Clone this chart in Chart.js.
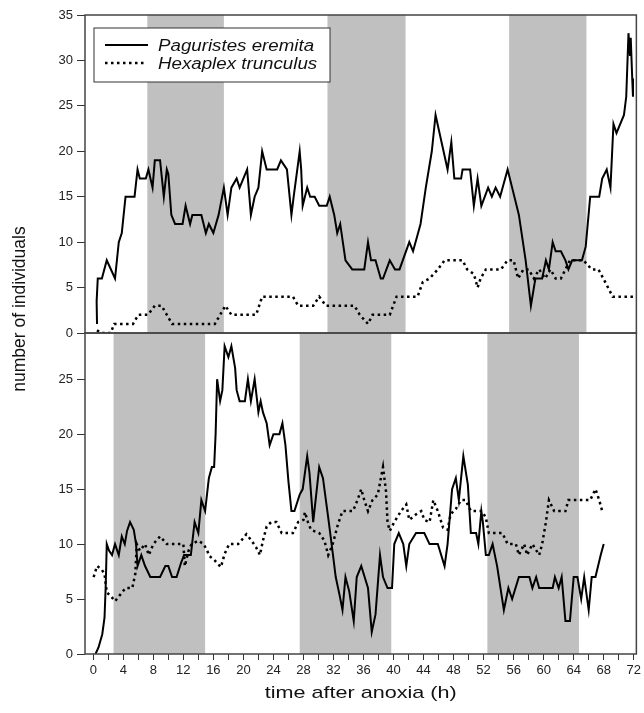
<!DOCTYPE html>
<html>
<head>
<meta charset="utf-8">
<title>Paguristes eremita / Hexaplex trunculus after anoxia</title>
<script src="https://cdn.jsdelivr.net/npm/chart.js@4.4.1/dist/chart.umd.min.js"></script>
<style>
  html, body { margin: 0; padding: 0; background: #fff; }
  #wrap { width: 644px; height: 713px; }
</style>
</head>
<body>
<div id="wrap"><canvas id="anoxiaChart" width="644" height="713"></canvas></div>
<script>
// ---- data (hours after anoxia, number of individuals) ----
// top panel
const topPagHours  = [0.5,0.45,0.6,1.15,1.8,2.9,3.4,3.8,4.3,5.5,5.9,6.2,7.0,7.35,7.9,8.2,8.9,9.4,9.8,10.0,10.4,10.9,11.9,12.3,12.9,13.2,14.4,15.0,15.4,16.0,16.7,17.4,17.9,18.4,19.1,19.5,20.5,21.0,21.5,22.0,22.5,23.1,24.5,25.0,25.8,26.4,26.7,27.5,27.7,27.9,28.5,28.9,29.5,30.1,31.1,31.5,32.1,32.5,32.9,33.6,34.5,36.1,36.6,37.0,37.6,38.3,38.6,39.5,40.2,40.8,42.1,42.6,43.6,44.3,45.1,45.6,46.4,47.2,47.7,48.1,49.0,49.2,50.2,50.7,51.2,51.7,52.6,53.1,53.6,54.2,55.2,55.8,56.7,57.6,58.3,58.9,59.8,60.3,60.7,61.2,61.6,62.3,62.9,63.3,63.8,65.1,65.6,66.2,67.4,67.8,68.4,68.9,69.3,69.7,70.7,71.0,71.3,71.5,71.6,71.8,71.9];
const topPagCount  = [1,3.5,6,6,8,6,10,11,15,15,18,17,17,18,16,19,19,15,18,17.5,13,12,12,14,12,13,13,11,12,11,13,16,13,16,17,16,18,13,15,16,20,18,18,19,18,13,15,20,18,14,16,15,15,14,14,15,13,11,12,8,7,7,10,8,8,6,6,8,7,7,10,9,12,16,20,24,21,18,21,17,17,18,18,14,17,14,16,15,16,15,18,16,13,8,3,6,6,8,7,10,9,9,8,7,8,8,9.5,15,15,17,18,16,23,22,24,26,33,30.5,32.5,28,26];
const topHexHours  = [0.5,1.0,2.3,2.8,5.3,6.0,7.3,8.2,9.1,9.8,10.5,16.2,16.9,17.6,18.4,21.7,22.5,26.6,27.3,29.3,30.1,31.0,34.8,35.5,36.6,37.2,39.5,40.4,43.2,43.9,44.8,45.9,46.8,49.2,49.8,50.7,51.2,51.6,52.3,54.3,55.2,56.0,56.6,57.3,58.0,58.7,59.4,60.2,60.9,61.6,62.3,62.9,63.5,65.3,66.4,67.3,68.2,69.2,72.0];
const topHexCount  = [0.3,0,0,1,1,2,2,3,3,2,1,1,2,3,2,2,4,4,3,3,4,3,3,2,1,2,2,4,4,5.6,6,7,8,8,7,6.5,5,6,7,7,8,8,6,7,7,6,7,6,7,6,6,7,8,8,7,7,5.6,4,4];
// bottom panel
const botPagHours  = [0.3,0.7,1.2,1.5,1.65,1.8,2.1,2.5,2.9,3.4,3.8,4.2,4.5,4.9,5.4,5.7,5.9,6.4,6.9,7.6,8.9,9.6,10.0,10.5,11.1,11.7,12.1,13.0,13.5,14.0,14.4,14.9,15.4,15.8,16.1,16.3,16.5,16.9,17.2,17.5,18.0,18.4,18.9,19.1,19.5,20.2,20.6,21.0,21.5,22.0,22.3,22.6,23.1,23.5,24.0,24.8,25.2,25.6,26.0,26.4,26.8,27.5,27.9,28.5,28.8,29.3,30.1,30.6,31.3,31.9,32.3,32.8,33.2,33.6,34.1,34.7,35.1,35.7,36.6,37.1,37.6,38.2,38.6,39.2,39.8,40.1,40.7,41.3,41.7,42.1,43.0,44.1,44.8,45.9,46.8,47.2,47.8,48.3,48.7,49.3,49.9,50.3,51.0,51.3,51.7,51.9,52.3,52.7,53.2,53.8,54.7,55.3,55.8,56.7,58.1,58.5,59.0,59.4,61.2,61.5,62.0,62.4,62.9,63.5,64.0,64.5,65.0,65.4,66.0,66.4,66.9,67.6,68.0];
const botPagCount  = [0,0.6,1.8,3.3,6,10,9.4,9,10,9,10.7,10,11.2,12,11.3,10,8,9,8,7,7,8,8,7,7,8.3,9,9,12,11,14,13,16,17,17,20,25,23,24,28,27,28,26,24,23,23,25,23,25,22,23,22,21,19,20,20,21,19,15.7,13,13,14.5,15,18,16.5,12,17,16,12.4,9.2,7,5.4,4,7,5.7,3,7,8,6,2,3.6,9,7,6,6,10,11,10,8,10,11,11,10,10,8,10,15,16,14,18,15.4,11,11,10,13,12,9,9,10,8,4,6,5,7,7,6,7,6,6,7,6,7,3,3,7,7,5,7,4,7,7,9,10];
const botHexHours  = [0.05,0.5,1.1,1.5,1.8,2.3,2.9,3.6,4.3,5.2,5.6,5.8,6.2,6.9,7.4,8.0,8.9,9.8,12.0,12.2,12.7,13.1,14.0,14.7,15.1,15.5,16.2,17.0,17.5,18.1,19.3,19.7,20.4,21.1,21.7,22.2,22.6,23.1,23.7,24.4,25.1,26.0,26.6,27.3,28.0,28.2,28.6,29.0,30.1,30.8,31.3,31.9,32.6,33.2,34.6,35.2,35.7,36.1,36.6,37.2,37.9,38.6,39.0,39.2,39.5,40.1,41.0,41.7,42.1,43.0,43.7,44.1,44.8,45.3,45.9,46.6,47.2,47.6,48.3,49.0,49.6,50.3,51.8,52.3,52.7,54.5,55.2,56.3,56.7,57.4,57.8,58.5,59.4,59.8,60.3,60.7,61.4,62.0,62.9,63.3,66.2,66.9,67.4,67.8];
const botHexCount  = [7,8,7.7,7.3,5.6,5.3,4.8,5.4,6,6,7.3,10,9.4,10,9,10,10.7,10,10,8,9.4,10,10.3,10,9.5,8.9,8.5,7.9,9.1,10,10,10.3,10.9,10.3,9.7,9,10.3,11.6,12,12,11,11,11,12,12.2,12.9,12,11.3,11,10.3,9,10,11.8,13,13,14,15,14,13,14,14.5,17,14.8,12,11.2,12,13,13.6,12.2,12.7,13,12.2,12,14,13,11.5,11.3,12.7,13.2,14,14,13,13,12.4,11,11,10,10,9,10,9,10,9,10,12,14,13,13,13,14,14,15,14,13];

// dark periods (shaded), start/end in hours
const topNight = [[7.2, 17.4], [31.2, 41.6], [55.4, 65.7]];
const botNight = [[2.7, 14.9], [27.5, 39.7], [52.5, 64.7]];

// tick values
const xTicks = [0,2,4,6,8,10,12,14,16,18,20,22,24,26,28,30,32,34,36,38,40,42,44,46,48,50,52,54,56,58,60,62,64,66,68,70,72];
const topYTicks = [0, 5, 10, 15, 20, 25, 30, 35];
const botYTicks = [0, 5, 10, 15, 20, 25];

const seriesNames = ['Paguristes eremita', 'Hexaplex trunculus'];

const FONT = "'Liberation Sans', Arial, sans-serif";
Chart.defaults.font.family = FONT;
Chart.defaults.color = '#222';

function toPoints(hours, counts) {
    return hours.map((h, i) => ({x: h, y: counts[i]}));
}

const solidStyle = {borderColor: '#000', borderWidth: 2, pointRadius: 0, tension: 0, fill: false};
const dotStyle = {borderColor: '#000', borderWidth: 2.5, borderDash: [2.5, 3.5], pointRadius: 0, tension: 0, fill: false};

// grey bands, panel frames, legend box and axis titles
const decorPlugin = {
    id: 'decor',
    beforeDatasetsDraw(chart) {
        const ctx = chart.ctx;
        const x = chart.scales.x;
        ctx.save();
        ctx.fillStyle = '#c0c0c0';
        [[topNight, chart.scales.yTop], [botNight, chart.scales.yBot]].forEach(([bands, y]) => {
            bands.forEach(b => {
                const x1 = x.getPixelForValue(b[0]);
                const x2 = x.getPixelForValue(b[1]);
                ctx.fillRect(x1, y.top, x2 - x1, y.bottom - y.top);
            });
        });
        ctx.restore();
    },
    afterDatasetsDraw(chart) {
        const ctx = chart.ctx;
        const area = chart.chartArea;
        const yTop = chart.scales.yTop, yBot = chart.scales.yBot;
        ctx.save();
        // frames
        ctx.strokeStyle = '#444';
        ctx.lineWidth = 1.5;
        ctx.strokeRect(area.left, yTop.top, area.right - area.left, yTop.bottom - yTop.top);
        ctx.strokeRect(area.left, yBot.top, area.right - area.left, yBot.bottom - yBot.top);

        // legend box (top-left of upper panel)
        const bx = area.left + 9, by = area.top + 13;
        ctx.fillStyle = '#fff';
        ctx.fillRect(bx, by, 236, 54);
        ctx.strokeStyle = '#333';
        ctx.lineWidth = 1;
        ctx.strokeRect(bx, by, 236, 54);
        const rows = [chart.data.datasets[0], chart.data.datasets[1]];
        rows.forEach((ds, i) => {
            const ly = by + 17 + i * 18;
            ctx.strokeStyle = ds.borderColor;
            ctx.lineWidth = ds.borderWidth;
            ctx.setLineDash(ds.borderDash || []);
            ctx.beginPath();
            ctx.moveTo(bx + 11, ly);
            ctx.lineTo(bx + (i === 0 ? 54 : 50), ly);
            ctx.stroke();
            ctx.setLineDash([]);
            ctx.save();
            ctx.translate(bx + 64, ly + 6);
            ctx.scale(1.17, 1);
            ctx.font = 'italic 16px ' + FONT;
            ctx.fillStyle = '#111';
            ctx.textAlign = 'left';
            ctx.textBaseline = 'alphabetic';
            ctx.fillText(ds.label, 0, 0);
            ctx.restore();
        });
        ctx.restore();
    },
    afterDraw(chart) {
        const ctx = chart.ctx;
        const area = chart.chartArea;
        ctx.save();
        ctx.fillStyle = '#111';
        // x title
        ctx.save();
        ctx.translate((area.left + area.right) / 2, 698);
        ctx.scale(1.27, 1);
        ctx.font = '17px ' + FONT;
        ctx.textAlign = 'center';
        ctx.textBaseline = 'alphabetic';
        ctx.fillText('time after anoxia (h)', 0, 0);
        ctx.restore();
        // y title
        ctx.translate(25, 309);
        ctx.rotate(-Math.PI / 2);
        ctx.font = '17.5px ' + FONT;
        ctx.textAlign = 'center';
        ctx.textBaseline = 'alphabetic';
        ctx.fillText('number of individuals', 0, 0);
        ctx.restore();
    }
};

function yAxis(max, ticks, weight, stackWeight) {
    return {
        type: 'linear',
        position: 'left',
        stack: 'panels',
        stackWeight: stackWeight,
        weight: weight,
        min: 0,
        max: max,
        afterBuildTicks: s => { s.ticks = ticks.map(v => ({value: v})); },
        afterFit: s => { s.width = 45; },
        border: {display: false},
        grid: {drawOnChartArea: false, drawTicks: true, tickLength: 8, tickColor: '#333', lineWidth: 1},
        ticks: {font: {size: 13}, color: '#222', padding: 4}
    };
}

new Chart(document.getElementById('anoxiaChart'), {
    type: 'line',
    data: {
        datasets: [
            Object.assign({label: seriesNames[0], data: toPoints(topPagHours, topPagCount), yAxisID: 'yTop'}, solidStyle),
            Object.assign({label: seriesNames[1], data: toPoints(topHexHours, topHexCount), yAxisID: 'yTop'}, dotStyle),
            Object.assign({label: seriesNames[0], data: toPoints(botPagHours, botPagCount), yAxisID: 'yBot'}, solidStyle),
            Object.assign({label: seriesNames[1], data: toPoints(botHexHours, botHexCount), yAxisID: 'yBot'}, dotStyle)
        ]
    },
    options: {
        responsive: false,
        animation: false,
        devicePixelRatio: 1,
        layout: {padding: {left: 40, right: 7, top: 15, bottom: 39}},
        scales: {
            x: {
                type: 'linear',
                min: -1.1,
                max: 72.35,
                afterBuildTicks: s => { s.ticks = xTicks.map(v => ({value: v})); },
                afterFit: s => { s.height = 20; },
                border: {display: false},
                grid: {drawOnChartArea: false, drawTicks: true, tickLength: 6, tickColor: '#333'},
                ticks: {
                    autoSkip: false,
                    maxRotation: 0,
                    padding: 3,
                    font: {size: 13},
                    color: '#222',
                    callback: v => (v % 4 === 0 ? v : '')
                }
            },
            yTop: yAxis(35, topYTicks, 1, 318),
            yBot: yAxis(29.2, botYTicks, 0, 321)
        },
        plugins: {
            legend: {display: false},
            tooltip: {enabled: false}
        }
    },
    plugins: [decorPlugin]
});
</script>
</body>
</html>
